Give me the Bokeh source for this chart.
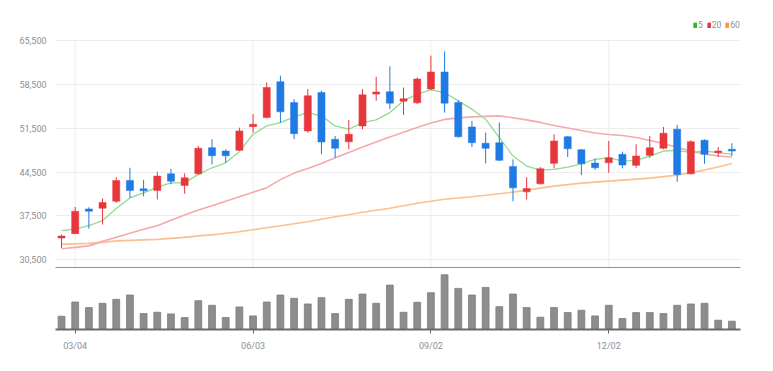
import pandas as pd
from bokeh.plotting import figure
from bokeh.layouts import column
from bokeh.models import (ColumnDataSource, Range1d, FixedTicker, Legend, LegendItem,
                          NumeralTickFormatter)
from bokeh.embed import file_html
from bokeh.resources import INLINE

# ---------------- data ----------------
dates = pd.date_range("2019-02-25", periods=50, freq="7D")
tick_idx = [1, 14, 27, 40]

opens = [33970, 34674, 38617, 38730, 39852, 43170, 41824, 41567, 44228, 42368,
         44228, 48396, 47867, 47980, 51762, 53205, 58928, 55610, 51073, 57212,
         49742, 49358, 51874, 56956, 57325, 55834, 55561, 57758, 60483, 55610,
         51714, 49101, 49198, 45414, 41343, 42625, 45895, 50159, 48076, 45943,
         45990, 47338, 45575, 47178, 48300, 51346, 44228, 49582, 47594, 48140]
highs = [34510, 38940, 38890, 40285, 43700, 45190, 43266, 44548, 45030, 44292,
         48668, 49743, 48140, 51602, 53750, 58815, 59890, 56155, 57758, 57485,
         50271, 52836, 57758, 59729, 61380, 58014, 59617, 63095, 63785, 55994,
         52676, 50800, 52403, 46536, 43700, 45302, 50544, 50271, 48188, 46697,
         49470, 47755, 48941, 50271, 51714, 52035, 49582, 49742, 48508, 49101]
lows = [32370, 34610, 35475, 36117, 39580, 40381, 40605, 40124, 42530, 41048,
        44100, 45735, 45990, 47867, 50800, 53110, 52403, 49742, 50800, 47338,
        46793, 48140, 51346, 55882, 54551, 53638, 55353, 57597, 54006, 50000,
        48508, 45895, 46264, 39852, 40124, 42530, 45094, 46905, 44020, 44869,
        44388, 45094, 45190, 46793, 48140, 42946, 44132, 45831, 46905, 47066]
closes = [34290, 38249, 38249, 39643, 43170, 41567, 41503, 43860, 43058, 43587,
          48300, 47114, 47114, 51073, 52147, 58014, 54119, 50640, 56683, 49310,
          48300, 50544, 56844, 57277, 55513, 56203, 59361, 60483, 55513, 50159,
          49198, 48300, 46376, 41984, 41888, 45030, 49470, 48236, 45831, 45190,
          46793, 45623, 47066, 48396, 50704, 44132, 49358, 47338, 47867, 47867]
volumes = [40, 83, 66, 79, 91, 104, 48, 52, 47, 36, 87, 73, 36, 68, 41, 83, 104, 94, 77, 96,
           48, 91, 107, 79, 134, 52, 82, 111, 165, 124, 104, 127, 69, 107, 66, 37, 66, 51, 58, 41,
           73, 33, 51, 51, 48, 73, 77, 79, 28, 25]
ma5 = [35155, 35412, 35957, 36758, 38682, 40381, 41183, 42096, 42785, 42785,
       44132, 45190, 45990, 47755, 50544, 51874, 52403, 53317, 54006, 53477,
       51874, 51346, 52403, 52836, 54006, 55882, 56956, 57645, 57212, 55882,
       54552, 52949, 49999, 47065, 45462, 44821, 44932, 45302, 45831, 46536,
       46793, 46264, 46376, 47065, 47867, 47979, 47594, 47867, 47594, 47338]
ma20 = [32270, 32478, 32719, 33440, 34081, 34722, 35364, 35925, 36806, 37640,
        38441, 39131, 39852, 40573, 41295, 42016, 43298, 44340, 45062, 45863,
        46777, 47627, 48508, 49310, 50111, 50865, 51634, 52355, 52916, 53157,
        53317, 53397, 53477, 53189, 52836, 52436, 51955, 51554, 51153, 50752,
        50512, 50352, 50031, 49550, 49069, 48428, 47867, 47386, 47065, 46905]
ma60 = [32959, 33039, 33119, 33280, 33520, 33600, 33680, 33761, 33921, 34081,
        34322, 34482, 34722, 34963, 35283, 35604, 35925, 36245, 36566, 36967,
        37367, 37688, 38089, 38409, 38730, 39131, 39531, 39852, 40173, 40365,
        40573, 40814, 41054, 41295, 41615, 41936, 42256, 42497, 42737, 42897,
        43058, 43218, 43379, 43539, 43779, 44020, 44421, 44821, 45302, 45863]
y_ticks = [30500, 37500, 44500, 51500, 58500, 65500]
ma_labels = ["5", "20", "60"]

# ---------------- styles ----------------
UP = "#e8363d"
DOWN = "#1f7ae3"
FONT = "Roboto"
LBL = "#8a8f96"
GRID = "#ededed"

idx = list(range(len(opens)))
colors = [UP if c >= o else DOWN for o, c in zip(opens, closes)]
src = ColumnDataSource(dict(
    x=idx, open=opens, high=highs, low=lows, close=closes,
    top=[max(o, c) for o, c in zip(opens, closes)],
    bottom=[min(o, c) for o, c in zip(opens, closes)],
    color=colors, vol=volumes, ma5=ma5, ma20=ma20, ma60=ma60))

x_range = Range1d(-0.44, 49.63)
y_lo, y_hi = 29105, 69988

p1 = figure(width=765, height=268, x_range=x_range, y_range=Range1d(y_lo, y_hi),
            output_backend="svg", toolbar_location=None,
            min_border_left=55, min_border_right=25, min_border_top=12, min_border_bottom=0)
p1.outline_line_color = None

# vertical grid lines at the date ticks, only up to the top price tick
p1.segment(x0=tick_idx, y0=[y_lo] * len(tick_idx), x1=tick_idx, y1=[y_ticks[-1]] * len(tick_idx),
           line_color=GRID, line_width=1)

p1.line("x", "ma60", source=src, color="#f9c190", line_width=1.6)
p1.line("x", "ma20", source=src, color="#f5a9ad", line_width=1.6)
p1.line("x", "ma5", source=src, color="#92db8f", line_width=1.3)
p1.segment("x", "high", "x", "low", source=src, color="color", line_width=1)
p1.vbar(x="x", top="top", bottom="bottom", width=0.52, source=src,
        fill_color="color", line_color="color", line_width=0.5)

# y axis
p1.yaxis.ticker = FixedTicker(ticks=y_ticks)
p1.yaxis.formatter = NumeralTickFormatter(format="0,0")
p1.yaxis.axis_line_color = None
p1.yaxis.major_tick_line_color = None
p1.yaxis.minor_tick_line_color = None
p1.yaxis.major_label_text_font = FONT
p1.yaxis.major_label_text_font_size = "9px"
p1.yaxis.major_label_text_color = LBL
p1.yaxis.major_label_standoff = 3

# x axis: black separator line only
p1.xaxis.ticker = FixedTicker(ticks=[])
p1.xaxis.major_label_standoff = 0
p1.xaxis.major_tick_out = 0
p1.xaxis.major_tick_in = 0
p1.xaxis.minor_tick_line_color = None
p1.xaxis.axis_line_color = "#222222"
p1.xaxis.axis_line_width = 2

p1.ygrid.grid_line_color = GRID
p1.xgrid.grid_line_color = None

# legend (small squares) at the top right
leg_cols = ["#2fb52f", "#e5393f", "#f59a3f"]
items = []
nan = float("nan")
for lab, c in zip(ma_labels, leg_cols):
    r = p1.vbar(x=[nan], top=[nan], bottom=[nan], width=0.5, fill_color=c, line_color=c)
    items.append(LegendItem(label=lab, renderers=[r]))
legend = Legend(items=items, orientation="horizontal", location=(638, 238),
                glyph_width=4, glyph_height=6, label_standoff=1, spacing=4,
                padding=0, margin=0, border_line_color=None, background_fill_alpha=0,
                label_text_font=FONT, label_text_font_size="8.5px", label_text_color=LBL,
                label_height=8, label_width=2)
p1.add_layout(legend, "center")

# volume
p2 = figure(width=765, height=95, x_range=x_range, y_range=Range1d(0, 178),
            output_backend="svg", toolbar_location=None,
            min_border_left=55, min_border_right=25, min_border_top=2, min_border_bottom=34)
p2.outline_line_color = None
p2.vbar(x="x", top="vol", width=0.5, source=src, fill_color="#8d8d8d", line_color="#7c7c7c",
        line_width=0.8)
p2.yaxis.visible = False
p2.grid.grid_line_color = None
p2.xaxis.ticker = FixedTicker(ticks=tick_idx)
p2.xaxis.major_label_overrides = {i: dates[i].strftime("%m/%d") for i in tick_idx}
p2.xaxis.major_label_text_font = FONT
p2.xaxis.major_label_text_font_size = "9px"
p2.xaxis.major_label_text_color = LBL
p2.xaxis.major_label_standoff = 7
p2.xaxis.major_tick_out = 4
p2.xaxis.major_tick_in = 0
p2.xaxis.major_tick_line_color = "#666666"
p2.xaxis.minor_tick_line_color = None
p2.xaxis.axis_line_color = "#6a6a6a"
p2.xaxis.axis_line_width = 2

layout = column(p1, p2, spacing=0)
open("out.html", "w").write(file_html(layout, INLINE))
